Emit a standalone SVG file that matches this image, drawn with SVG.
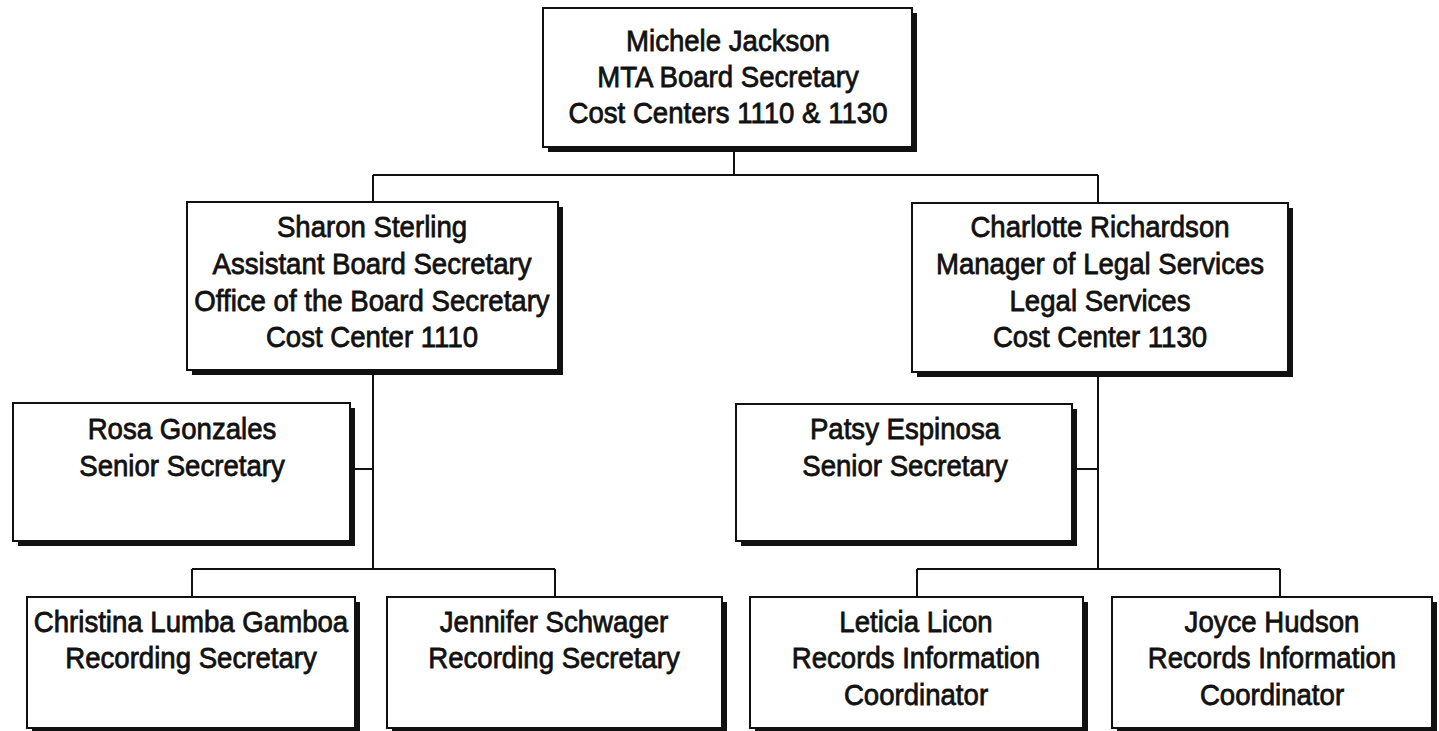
<svg xmlns="http://www.w3.org/2000/svg" width="1439" height="731" viewBox="0 0 1439 731">
<style>
.sh{fill:#111;}
.bx{fill:#fff;stroke:#111;stroke-width:2;}
.t{font-family:"Liberation Sans",Arial,sans-serif;font-size:30px;fill:#111;stroke:#111;stroke-width:0.8;text-anchor:middle;}
.c{fill:none;stroke:#111;stroke-width:2;}
</style>
<rect width="1439" height="731" fill="#fff"/>
<g id="connectors">
<path class="c" d="M734 150V175M373 175H1098M373 175V202M1098 175V203"/>
<path class="c" d="M373 372V569M355 469H373M192 569H555M192 569V597M555 569V597"/>
<path class="c" d="M1098 374V569M1076 469H1098M917 569H1280M917 569V597M1280 569V597"/>
</g>
<g id="n-michele">
<rect class="sh" x="548" y="13" width="369" height="139"/>
<rect class="bx" x="543" y="8" width="369" height="139"/>
<g transform="translate(728 0) scale(0.92 1)">
<text class="t" x="0" y="51">Michele Jackson</text>
<text class="t" x="0" y="87">MTA Board Secretary</text>
<text class="t" x="0" y="123">Cost Centers 1110 &amp; 1130</text>
</g>
</g>
<g id="n-sharon">
<rect class="sh" x="192" y="207" width="371" height="168"/>
<rect class="bx" x="187" y="202" width="371" height="168"/>
<g transform="translate(372 0) scale(0.92 1)">
<text class="t" x="0" y="237">Sharon Sterling</text>
<text class="t" x="0" y="274">Assistant Board Secretary</text>
<text class="t" x="0" y="311">Office of the Board Secretary</text>
<text class="t" x="0" y="347">Cost Center 1110</text>
</g>
</g>
<g id="n-charlotte">
<rect class="sh" x="917" y="208" width="376" height="169"/>
<rect class="bx" x="912" y="203" width="376" height="169"/>
<g transform="translate(1100 0) scale(0.92 1)">
<text class="t" x="0" y="237">Charlotte Richardson</text>
<text class="t" x="0" y="274">Manager of Legal Services</text>
<text class="t" x="0" y="311">Legal Services</text>
<text class="t" x="0" y="347">Cost Center 1130</text>
</g>
</g>
<g id="n-rosa">
<rect class="sh" x="18" y="408" width="337" height="138"/>
<rect class="bx" x="13" y="403" width="337" height="138"/>
<g transform="translate(182 0) scale(0.92 1)">
<text class="t" x="0" y="439">Rosa Gonzales</text>
<text class="t" x="0" y="476">Senior Secretary</text>
</g>
</g>
<g id="n-patsy">
<rect class="sh" x="741" y="409" width="336" height="137"/>
<rect class="bx" x="736" y="404" width="336" height="137"/>
<g transform="translate(905 0) scale(0.92 1)">
<text class="t" x="0" y="439">Patsy Espinosa</text>
<text class="t" x="0" y="476">Senior Secretary</text>
</g>
</g>
<g id="n-christina">
<rect class="sh" x="32" y="602" width="328" height="131"/>
<rect class="bx" x="27" y="597" width="328" height="131"/>
<g transform="translate(191 0) scale(0.92 1)">
<text class="t" x="0" y="632">Christina Lumba Gamboa</text>
<text class="t" x="0" y="668">Recording Secretary</text>
</g>
</g>
<g id="n-jennifer">
<rect class="sh" x="392" y="602" width="335" height="131"/>
<rect class="bx" x="387" y="597" width="335" height="131"/>
<g transform="translate(554 0) scale(0.92 1)">
<text class="t" x="0" y="632">Jennifer Schwager</text>
<text class="t" x="0" y="668">Recording Secretary</text>
</g>
</g>
<g id="n-leticia">
<rect class="sh" x="755" y="602" width="333" height="131"/>
<rect class="bx" x="750" y="597" width="333" height="131"/>
<g transform="translate(916 0) scale(0.92 1)">
<text class="t" x="0" y="632">Leticia Licon</text>
<text class="t" x="0" y="668">Records Information</text>
<text class="t" x="0" y="705">Coordinator</text>
</g>
</g>
<g id="n-joyce">
<rect class="sh" x="1117" y="602" width="320" height="131"/>
<rect class="bx" x="1112" y="597" width="320" height="131"/>
<g transform="translate(1272 0) scale(0.92 1)">
<text class="t" x="0" y="632">Joyce Hudson</text>
<text class="t" x="0" y="668">Records Information</text>
<text class="t" x="0" y="705">Coordinator</text>
</g>
</g>
</svg>
